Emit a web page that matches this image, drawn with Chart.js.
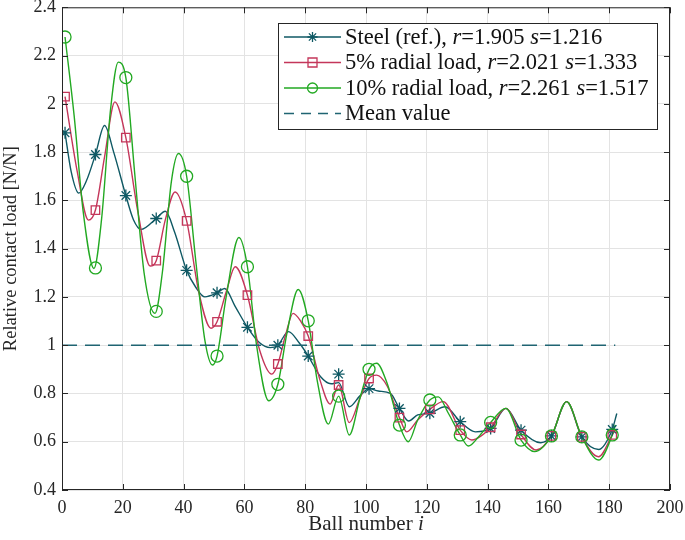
<!DOCTYPE html>
<html>
<head>
<meta charset="utf-8">
<script src="https://cdn.jsdelivr.net/npm/chart.js@4.4.0/dist/chart.umd.min.js"></script>
<style>
  html, body { margin: 0; padding: 0; background: #fff; }
</style>
</head>
<body>
<canvas id="chart" width="685" height="540"></canvas>
<script>
// marker positions (every 10th ball)
const markerBalls = [1, 11, 21, 31, 41, 51, 61, 71, 81, 91, 101, 111, 121, 131, 141, 151, 161, 171, 181]
const steelMarkers = [1.88, 1.79, 1.62, 1.525, 1.31, 1.217, 1.074, 1.0, 0.955, 0.88, 0.82, 0.738, 0.718, 0.683, 0.655, 0.648, 0.624, 0.62, 0.651]
const load5Markers = [2.03, 1.56, 1.86, 1.35, 1.515, 1.097, 1.207, 0.922, 1.038, 0.835, 0.862, 0.70, 0.734, 0.648, 0.66, 0.63, 0.624, 0.62, 0.628]
const load10Markers = [2.277, 1.32, 2.109, 1.14, 1.70, 0.955, 1.325, 0.838, 1.101, 0.789, 0.90, 0.669, 0.773, 0.628, 0.68, 0.607, 0.624, 0.62, 0.628]

// fitted curves
const steelCurveX = [1, 3, 5.5, 8, 11, 14, 17, 21, 23.5, 26, 31, 34, 37, 41, 44, 47, 51, 53.5, 57, 61, 65, 68.5, 71, 74.5, 78, 81, 85, 88.5, 91, 94.5, 98, 101, 104, 108, 111, 114, 117, 121, 126, 131, 136, 141, 146, 151, 157.5, 161, 166, 171, 176.5, 181, 182.5]
const steelCurveY = [1.88, 1.72, 1.63, 1.68, 1.79, 1.91, 1.80, 1.62, 1.52, 1.48, 1.525, 1.555, 1.47, 1.31, 1.24, 1.20, 1.217, 1.235, 1.16, 1.074, 1.01, 0.99, 1.0, 1.056, 1.01, 0.955, 0.87, 0.84, 0.845, 0.745, 0.79, 0.82, 0.81, 0.80, 0.738, 0.686, 0.711, 0.718, 0.745, 0.683, 0.641, 0.655, 0.738, 0.648, 0.596, 0.624, 0.766, 0.62, 0.568, 0.651, 0.717]

const load5CurveX = [1, 5, 8.7, 11, 14, 17.4, 21, 25, 29, 31, 34, 37.2, 41, 45, 49, 51, 54, 57, 61, 65, 69, 71, 73.5, 76, 78.5, 81, 85, 88.2, 91, 94.5, 98, 101, 103.5, 107, 111, 113.4, 117, 121, 125.4, 131, 134.8, 138, 141, 146, 151, 156, 161, 166, 171, 176.5, 181, 182]
const load5CurveY = [2.03, 1.72, 1.518, 1.56, 1.78, 2.008, 1.86, 1.55, 1.328, 1.35, 1.52, 1.635, 1.515, 1.22, 1.07, 1.097, 1.22, 1.325, 1.207, 0.98, 0.88, 0.922, 1.04, 1.132, 1.10, 1.038, 0.85, 0.756, 0.835, 0.679, 0.78, 0.862, 0.876, 0.83, 0.70, 0.641, 0.69, 0.734, 0.766, 0.648, 0.607, 0.625, 0.66, 0.738, 0.63, 0.566, 0.624, 0.766, 0.62, 0.538, 0.628, 0.65]

const load10CurveX = [1, 4, 7, 10.5, 13, 16, 18.5, 21, 24, 27, 30.6, 33, 36, 38.3, 41, 44, 47, 49.5, 51, 54, 58.2, 61, 64, 68, 71, 74, 77.7, 81, 84, 87.6, 91, 94.5, 98, 101, 103.5, 107, 111, 113.9, 117, 121, 123.8, 127, 131, 133.7, 137, 141, 146, 151, 155.5, 161, 166, 171, 176.5, 181, 182]
const load10CurveY = [2.277, 1.95, 1.55, 1.318, 1.52, 1.98, 2.173, 2.109, 1.70, 1.30, 1.132, 1.30, 1.68, 1.794, 1.70, 1.35, 1.02, 0.918, 0.955, 1.20, 1.446, 1.325, 1.00, 0.77, 0.838, 1.05, 1.231, 1.101, 0.85, 0.673, 0.789, 0.628, 0.78, 0.90, 0.925, 0.84, 0.669, 0.60, 0.69, 0.773, 0.786, 0.72, 0.628, 0.582, 0.62, 0.68, 0.738, 0.607, 0.559, 0.624, 0.766, 0.62, 0.524, 0.628, 0.67]

const meanX = [0, 182]
const meanY = [1, 1]

const steelColor = '#0f5964'
const load5Color = '#c4365a'
const load10Color = '#22a922'
const meanColor = '#1f6472'
const serif = '"Liberation Serif", "DejaVu Serif", serif'

const toPoints = (xs, ys) => xs.map((x, i) => ({ x: x, y: ys[i] }))

const curve = (xs, ys, color, order) => ({
  data: toPoints(xs, ys),
  showLine: true,
  borderColor: color,
  borderWidth: 1.4,
  pointRadius: 0,
  cubicInterpolationMode: 'monotone',
  order: order
})

const markers = (ys, color, style, order) => ({
  data: toPoints(markerBalls, ys),
  showLine: false,
  borderColor: color,
  backgroundColor: 'rgba(0,0,0,0)',
  pointStyle: style,
  pointRadius: 6,
  pointBorderWidth: 1.3,
  order: order
})

// small marker drawer for the legend
function drawMarker(ctx, style, x, y, color) {
  ctx.save()
  ctx.strokeStyle = color
  ctx.lineWidth = 1.3
  ctx.beginPath()
  if (style === 'star') {
    const r = 5
    ctx.moveTo(x - r, y); ctx.lineTo(x + r, y)
    ctx.moveTo(x, y - r); ctx.lineTo(x, y + r)
    const d = r * 0.72
    ctx.moveTo(x - d, y - d); ctx.lineTo(x + d, y + d)
    ctx.moveTo(x - d, y + d); ctx.lineTo(x + d, y - d)
  } else if (style === 'rect') {
    ctx.rect(x - 4.5, y - 4.5, 9, 9)
  } else {
    ctx.arc(x, y, 5, 0, Math.PI * 2)
  }
  ctx.stroke()
  ctx.restore()
}

// write runs of plain / italic text
function drawRuns(ctx, runs, x, y, size) {
  let cx = x
  runs.forEach(([t, it]) => {
    ctx.font = (it ? 'italic ' : '') + size + 'px ' + serif
    ctx.fillText(t, cx, y)
    cx += ctx.measureText(t).width
  })
}

const legendRows = [
  { color: steelColor, marker: 'star', runs: [['Steel (ref.), ', 0], ['r', 1], ['=1.905 ', 0], ['s', 1], ['=1.216', 0]] },
  { color: load5Color, marker: 'rect', runs: [['5% radial load, ', 0], ['r', 1], ['=2.021 ', 0], ['s', 1], ['=1.333', 0]] },
  { color: load10Color, marker: 'circle', runs: [['10% radial load, ', 0], ['r', 1], ['=2.261 ', 0], ['s', 1], ['=1.517', 0]] },
  { color: meanColor, marker: null, runs: [['Mean value', 0]] }
]

const decorations = {
  id: 'decorations',
  afterDraw(chart) {
    const ctx = chart.ctx
    const a = chart.chartArea
    const xs = chart.scales.x
    const ys = chart.scales.y

    // frame + inward ticks
    ctx.save()
    ctx.strokeStyle = '#262626'
    ctx.lineWidth = 1
    ctx.strokeRect(a.left + 0.5, a.top + 0.5, a.right - a.left - 1, a.bottom - a.top - 1)
    ctx.beginPath()
    xs.ticks.forEach(t => {
      const px = Math.round(xs.getPixelForValue(t.value)) + 0.5
      ctx.moveTo(px, a.bottom); ctx.lineTo(px, a.bottom - 6)
      ctx.moveTo(px, a.top); ctx.lineTo(px, a.top + 6)
    })
    ys.ticks.forEach(t => {
      const py = Math.round(ys.getPixelForValue(t.value)) + 0.5
      ctx.moveTo(a.left, py); ctx.lineTo(a.left + 6, py)
      ctx.moveTo(a.right, py); ctx.lineTo(a.right - 6, py)
    })
    ctx.stroke()

    // x axis title with italic i
    ctx.fillStyle = '#262626'
    ctx.textBaseline = 'alphabetic'
    ctx.font = '21px ' + serif
    const w1 = ctx.measureText('Ball number ').width
    ctx.font = 'italic 21px ' + serif
    const w2 = ctx.measureText('i').width
    const cx = (a.left + a.right) / 2 - (w1 + w2) / 2
    drawRuns(ctx, [['Ball number ', 0], ['i', 1]], cx, 530, 21)

    // legend box
    const bx = 278, by = 23, bw = 379, bh = 106
    ctx.fillStyle = '#fff'
    ctx.fillRect(bx, by, bw, bh)
    ctx.strokeStyle = '#262626'
    ctx.strokeRect(bx + 0.5, by + 0.5, bw, bh)
    legendRows.forEach((row, i) => {
      const y = 37 + i * 25.5
      ctx.strokeStyle = row.color
      ctx.lineWidth = 1.4
      ctx.setLineDash(row.marker ? [] : [10, 7])
      ctx.beginPath()
      ctx.moveTo(284, y); ctx.lineTo(341, y)
      ctx.stroke()
      ctx.setLineDash([])
      if (row.marker) drawMarker(ctx, row.marker, 312.5, y, row.color)
      ctx.fillStyle = '#111'
      ctx.textBaseline = 'middle'
      drawRuns(ctx, row.runs, 345, y + 1, 22.5)
    })
    ctx.restore()
  }
}

new Chart(document.getElementById('chart'), {
  type: 'scatter',
  data: {
    datasets: [
      curve(steelCurveX, steelCurveY, steelColor, 6),
      curve(load5CurveX, load5CurveY, load5Color, 5),
      curve(load10CurveX, load10CurveY, load10Color, 4),
      markers(steelMarkers, steelColor, 'star', 3),
      markers(load5Markers, load5Color, 'rect', 2),
      markers(load10Markers, load10Color, 'circle', 1),
      {
        data: toPoints(meanX, meanY),
        showLine: true,
        borderColor: meanColor,
        borderWidth: 1.4,
        borderDash: [15, 8],
        pointRadius: 0,
        order: 0
      }
    ]
  },
  options: {
    responsive: false,
    animation: false,
    layout: { padding: { top: 7, right: 15, left: 0, bottom: 0 } },
    plugins: {
      legend: { display: false },
      tooltip: { enabled: false }
    },
    scales: {
      x: {
        type: 'linear',
        min: 0,
        max: 200,
        afterFit: (s) => { s.height = 50; s.paddingLeft = 0; s.paddingRight = 0 },
        border: { display: false },
        grid: { color: '#e3e3e3', drawTicks: false },
        ticks: {
          stepSize: 20,
          padding: 7,
          color: '#262626',
          font: { family: serif, size: 18 }
        }
      },
      y: {
        min: 0.4,
        max: 2.4,
        afterFit: (s) => { s.width = 62; s.paddingTop = 0; s.paddingBottom = 0 },
        border: { display: false },
        grid: { color: '#e3e3e3', drawTicks: false },
        ticks: {
          stepSize: 0.2,
          padding: 6,
          color: '#262626',
          font: { family: serif, size: 18 }
        ,
          callback: (v) => String(+v.toFixed(1))
        },
        title: {
          display: true,
          text: 'Relative contact load [N/N]',
          color: '#262626',
          font: { family: serif, size: 18.5 },
          padding: { top: 0, bottom: 2 }
        }
      }
    }
  },
  plugins: [decorations]
})
</script>
</body>
</html>
